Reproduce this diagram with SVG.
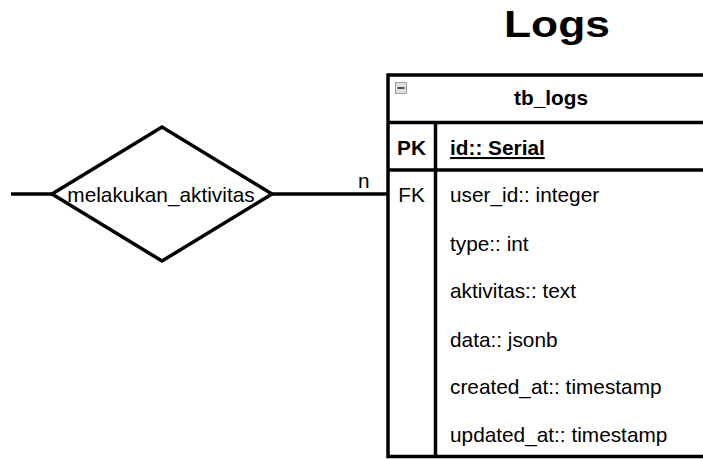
<svg xmlns="http://www.w3.org/2000/svg" width="703" height="459" viewBox="0 0 703 459">
<style>
.t{font-family:"Liberation Sans",Arial,sans-serif;font-size:20.8px;fill:#000}
.b{font-weight:bold}
.ln{stroke:#000;stroke-width:3.5;fill:none}
</style>
<rect width="703" height="459" fill="#fff"/>
<text class="t b" x="504" y="37" style="font-size:36px" textLength="106" lengthAdjust="spacingAndGlyphs">Logs</text>
<g id="connectors">
<line class="ln" x1="11" y1="194" x2="52" y2="194"/>
<line class="ln" x1="272" y1="194" x2="388" y2="194"/>
<text class="t" x="358" y="188">n</text>
</g>
<g id="melakukan_aktivitas">
<polygon class="ln" points="52,194 162,127 272,194 162,261" fill="#fff"/>
<text class="t" x="161" y="202" text-anchor="middle">melakukan_aktivitas</text>
</g>
<g id="tb_logs">
<rect class="ln" x="388" y="75" width="330" height="381.5" fill="#fff"/>
<line class="ln" x1="388" y1="122.5" x2="718" y2="122.5"/>
<line class="ln" x1="388" y1="170" x2="718" y2="170"/>
<line class="ln" x1="435.5" y1="122.5" x2="435.5" y2="456.5"/>
<rect x="395.5" y="82.5" width="11" height="11" fill="#e0e0e0" stroke="#a0a0a0" stroke-width="1"/>
<line x1="397.5" y1="88" x2="404.5" y2="88" stroke="#505050" stroke-width="2"/>
<text class="t b" x="551" y="105" text-anchor="middle">tb_logs</text>
<text class="t b" x="411.5" y="155" text-anchor="middle">PK</text>
<text class="t b" x="450" y="155" text-decoration="underline">id:: Serial</text>
<text class="t" x="411.5" y="202" text-anchor="middle">FK</text>
<text class="t" x="450" y="202">user_id:: integer</text>
<text class="t" x="450" y="251">type:: int</text>
<text class="t" x="450" y="298">aktivitas:: text</text>
<text class="t" x="450" y="346.5">data:: jsonb</text>
<text class="t" x="450" y="393.5">created_at:: timestamp</text>
<text class="t" x="450" y="441.5">updated_at:: timestamp</text>
</g>
</svg>
